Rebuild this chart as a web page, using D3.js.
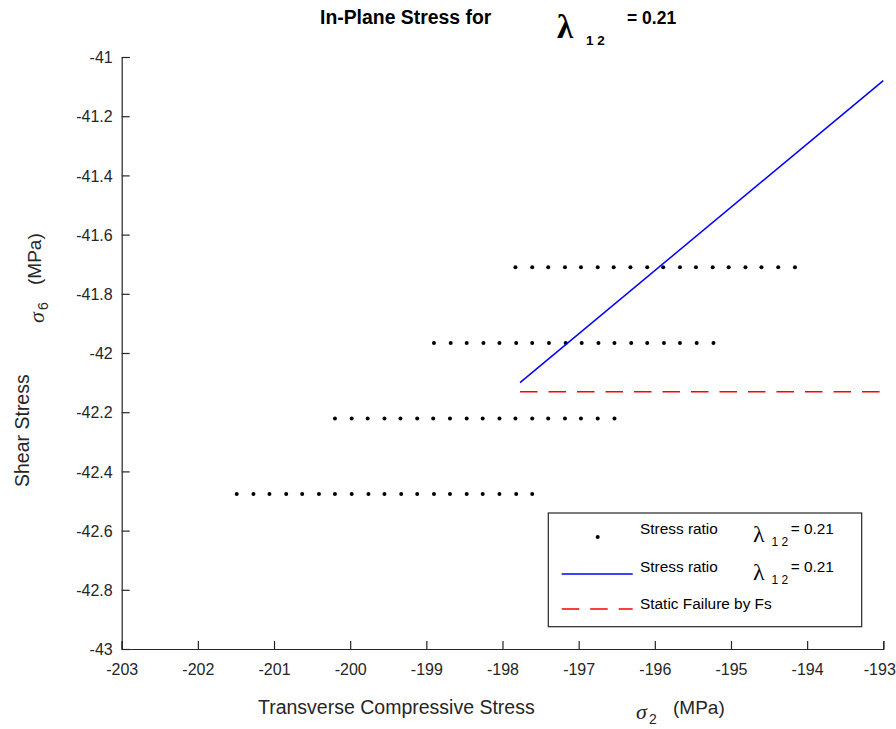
<!DOCTYPE html>
<html>
<head>
<meta charset="utf-8">
<script src="https://cdn.jsdelivr.net/npm/d3@7"></script>
<style>
  body { margin: 0; background: #fff; }
  text { font-family: "Liberation Sans", Arial, sans-serif; }
</style>
</head>
<body>
<svg id="chart" width="896" height="729"></svg>
<script>
// --- Data ---
const xTicks = [-203, -202, -201, -200, -199, -198, -197, -196, -195, -194, -193];
const yTicks = [-41, -41.2, -41.4, -41.6, -41.8, -42, -42.2, -42.4, -42.6, -42.8, -43];

const rowY = [-41.71, -41.966, -42.221, -42.476];
const rowX1 = [-197.83, -197.61, -197.40, -197.18, -196.97, -196.75, -196.54, -196.32, -196.10,
  -195.89, -195.67, -195.46, -195.24, -195.03, -194.81, -194.60, -194.38, -194.16];
const rowX2 = [-198.90, -198.68, -198.47, -198.25, -198.04, -197.82, -197.61, -197.39, -197.17,
  -196.96, -196.74, -196.53, -196.31, -196.10, -195.88, -195.67, -195.45, -195.23];
const rowX3 = [-200.20, -199.98, -199.77, -199.55, -199.34, -199.12, -198.91, -198.69, -198.47,
  -198.26, -198.04, -197.83, -197.61, -197.40, -197.18, -196.97, -196.75, -196.53];
const rowX4 = [-201.49, -201.27, -201.06, -200.84, -200.63, -200.41, -200.20, -199.98, -199.76,
  -199.55, -199.33, -199.12, -198.90, -198.69, -198.47, -198.26, -198.04, -197.82, -197.61];

const stressLine = [[-197.77, -42.100], [-193, -41.080]];
const failureLine = [[-197.77, -42.131], [-193, -42.131]];

const legendLabels = ["Stress ratio", "Stress ratio", "Static Failure by Fs"];
const lambdaValue = "0.21";

// --- Layout ---
const svg = d3.select("#chart");
const axisColor = "#262626";
const x = d3.scaleLinear().domain([-203, -193]).range([121.7, 883.3]);
const y = d3.scaleLinear().domain([-43, -41]).range([649, 57]);

// axes (ticks pointing inward, only left and bottom)
const xAxis = svg.append("g").attr("transform", "translate(0,649)")
  .call(d3.axisBottom(x).tickValues(xTicks).tickSize(-8).tickPadding(15).tickFormat(d => String(d)));
const yAxis = svg.append("g").attr("transform", "translate(121.7,0)")
  .call(d3.axisLeft(y).tickValues(yTicks).tickSize(-8).tickPadding(9).tickFormat(d => String(d)));
[xAxis, yAxis].forEach(g => {
  g.select(".domain").attr("stroke", axisColor).attr("stroke-width", 1.2);
  g.selectAll(".tick line").attr("stroke", axisColor).attr("stroke-width", 1.2);
  g.selectAll(".tick text").attr("fill", axisColor).style("font-size", "16px")
    .style("font-family", "'Liberation Sans', Arial, sans-serif");
});
yAxis.selectAll(".tick text").attr("dy", "0.35em");
// keep the last x label inside the page
xAxis.selectAll(".tick text").filter(d => d === -193).attr("text-anchor", "end").attr("x", 12);

// dots
const rows = [rowX1, rowX2, rowX3, rowX4];
const dots = [];
rows.forEach((xs, i) => xs.forEach(v => dots.push([v, rowY[i]])));
svg.append("g").selectAll("circle").data(dots).join("circle")
  .attr("cx", d => x(d[0])).attr("cy", d => y(d[1])).attr("r", 2).attr("fill", "#000");

const line = d3.line().x(d => x(d[0])).y(d => y(d[1]));
svg.append("path").attr("d", line(stressLine))
  .attr("fill", "none").attr("stroke", "#0000ff").attr("stroke-width", 1.5);
svg.append("path").attr("d", line(failureLine))
  .attr("fill", "none").attr("stroke", "#ff0000").attr("stroke-width", 1.5)
  .attr("stroke-dasharray", "17.5,11");

// helper for lambda_12 text
function lambdaText(g, xPos, yBase, size, subX, subBase, subSize, bold) {
  g.append("text").attr("x", xPos).attr("y", yBase)
    .style("font-family", "'Liberation Serif', 'DejaVu Serif', serif")
    .style("font-weight", bold ? "bold" : "normal")
    .style("font-size", size + "px").attr("fill", "#000").text("λ");
  g.append("text").attr("x", subX).attr("y", subBase)
    .style("font-weight", bold ? "bold" : "normal")
    .style("font-size", subSize + "px").attr("fill", "#000").text("1 2");
}

// title
const title = svg.append("g");
title.append("text").attr("x", 320).attr("y", 24)
  .style("font-size", "19.4px").style("font-weight", "bold").attr("fill", "#000")
  .text("In-Plane Stress for");
lambdaText(title, 557, 38, 33, 586, 45, 13.5, true);
title.append("text").attr("x", 627).attr("y", 24)
  .style("font-size", "17.5px").style("font-weight", "bold").attr("fill", "#000")
  .text("= " + lambdaValue);

// axis labels
svg.append("text").attr("x", 258).attr("y", 714)
  .style("font-size", "19.5px").attr("fill", axisColor).text("Transverse Compressive Stress");
svg.append("text").attr("x", 636).attr("y", 719)
  .style("font-family", "'Liberation Serif', serif").style("font-style", "italic")
  .style("font-size", "22px").attr("fill", axisColor).text("σ");
svg.append("text").attr("x", 649).attr("y", 724)
  .style("font-size", "14px").attr("fill", axisColor).text("2");
svg.append("text").attr("x", 673).attr("y", 714)
  .style("font-size", "19px").attr("fill", axisColor).text("(MPa)");

const yl = svg.append("g").attr("transform", "translate(29,0) rotate(-90)");
yl.append("text").attr("x", -487).attr("y", 0)
  .style("font-size", "19.5px").attr("fill", axisColor).text("Shear Stress");
yl.append("text").attr("x", -323).attr("y", 15)
  .style("font-family", "'Liberation Serif', serif").style("font-style", "italic")
  .style("font-size", "22px").attr("fill", axisColor).text("σ");
yl.append("text").attr("x", -310).attr("y", 19)
  .style("font-size", "14px").attr("fill", axisColor).text("6");
yl.append("text").attr("x", -285).attr("y", 12)
  .style("font-size", "19px").attr("fill", axisColor).text("(MPa)");

// legend
const lg = svg.append("g");
lg.append("rect").attr("x", 548.3).attr("y", 513).attr("width", 313.4).attr("height", 113.7)
  .attr("fill", "#fff").attr("stroke", axisColor).attr("stroke-width", 1.2);
const entryY = [537, 574, 609];
lg.append("circle").attr("cx", 597.7).attr("cy", entryY[0]).attr("r", 2).attr("fill", "#000");
lg.append("line").attr("x1", 561.7).attr("x2", 632.7).attr("y1", entryY[1]).attr("y2", entryY[1])
  .attr("stroke", "#0000ff").attr("stroke-width", 1.5);
lg.append("line").attr("x1", 561.7).attr("x2", 632.7).attr("y1", entryY[2]).attr("y2", entryY[2])
  .attr("stroke", "#ff0000").attr("stroke-width", 1.5).attr("stroke-dasharray", "17.5,11");
const textBase = [533.5, 571.5, 609];
legendLabels.forEach((t, i) => {
  lg.append("text").attr("x", 640).attr("y", textBase[i])
    .style("font-size", "15.4px").attr("fill", "#000").text(t);
});
[0, 1].forEach(i => {
  lambdaText(lg, 753, textBase[i] + 8.5, 24, 771.5, textBase[i] + 12.5, 12, false);
  lg.append("text").attr("x", 790.7).attr("y", textBase[i])
    .style("font-size", "15.4px").attr("fill", "#000").text("= " + lambdaValue);
});
</script>
</body>
</html>
